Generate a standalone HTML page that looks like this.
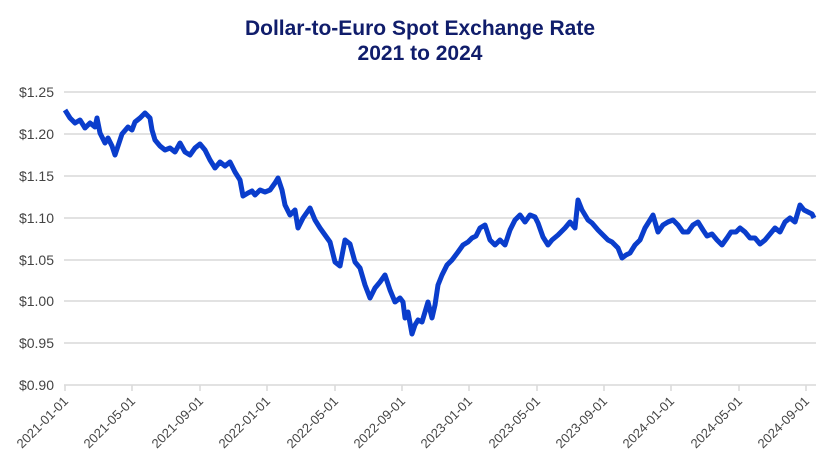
<!DOCTYPE html>
<html><head><meta charset="utf-8"><style>
body{margin:0;background:#fff;}
svg{display:block;font-family:"Liberation Sans",sans-serif;}
</style></head><body>
<svg width="840" height="472" viewBox="0 0 840 472">
<text x="420" y="35" text-anchor="middle" font-size="21" font-weight="bold" fill="#101d6b">Dollar-to-Euro Spot Exchange Rate</text>
<text x="420" y="60" text-anchor="middle" font-size="21" font-weight="bold" fill="#101d6b">2021 to 2024</text>
<g stroke="#d9d9d9" stroke-width="1.5">
<line x1="64" x2="816" y1="92" y2="92"/><line x1="64" x2="816" y1="134" y2="134"/>
<line x1="64" x2="816" y1="176" y2="176"/><line x1="64" x2="816" y1="218" y2="218"/>
<line x1="64" x2="816" y1="260" y2="260"/><line x1="64" x2="816" y1="301" y2="301"/>
<line x1="64" x2="816" y1="343" y2="343"/><line x1="64" x2="816" y1="385" y2="385"/>
<path d="M65 385v6M132 385v6M200 385v6M267 385v6M335 385v6M402 385v6M469 385v6M537 385v6M604 385v6M671 385v6M739 385v6M806 385v6"/>
</g>
<g font-size="14" fill="#444" text-anchor="end">
<text x="54" y="97">$1.25</text><text x="54" y="139">$1.20</text><text x="54" y="181">$1.15</text>
<text x="54" y="223">$1.10</text><text x="54" y="265">$1.05</text><text x="54" y="306">$1.00</text>
<text x="54" y="348">$0.95</text><text x="54" y="390">$0.90</text>
</g>
<g font-size="13" fill="#444" text-anchor="end">
<text transform="translate(69,402) rotate(-45)">2021-01-01</text>
<text transform="translate(136,402) rotate(-45)">2021-05-01</text>
<text transform="translate(204,402) rotate(-45)">2021-09-01</text>
<text transform="translate(271,402) rotate(-45)">2022-01-01</text>
<text transform="translate(339,402) rotate(-45)">2022-05-01</text>
<text transform="translate(406,402) rotate(-45)">2022-09-01</text>
<text transform="translate(473,402) rotate(-45)">2023-01-01</text>
<text transform="translate(541,402) rotate(-45)">2023-05-01</text>
<text transform="translate(608,402) rotate(-45)">2023-09-01</text>
<text transform="translate(675,402) rotate(-45)">2024-01-01</text>
<text transform="translate(743,402) rotate(-45)">2024-05-01</text>
<text transform="translate(810,402) rotate(-45)">2024-09-01</text>
</g>
<path fill="none" stroke="#0a3dcc" stroke-width="5" stroke-linejoin="round" d="M65 110 L70 118 L75 123 L80 120 L85 128 L90 123 L95 127 L97 118 L100 133 L105 143 L108 138 L112 146 L115 155 L118 146 L122 134 L128 127 L132 130 L135 122 L140 118 L145 113 L150 118 L152 130 L155 140 L160 146 L165 150 L170 148 L175 152 L180 143 L185 152 L190 155 L195 148 L200 144 L205 150 L210 160 L215 168 L220 162 L225 166 L230 162 L235 172 L240 180 L243 196 L248 193 L252 191 L255 195 L260 190 L265 192 L270 190 L275 183 L278 178 L282 190 L285 205 L290 215 L295 210 L298 228 L303 218 L310 208 L315 220 L320 228 L325 235 L330 242 L335 262 L340 266 L345 240 L350 244 L355 262 L360 268 L365 285 L370 298 L375 288 L380 282 L385 275 L390 290 L395 302 L400 298 L403 302 L405 318 L408 312 L412 334 L415 325 L418 320 L422 322 L425 312 L428 302 L432 318 L435 305 L438 285 L442 275 L447 265 L452 260 L458 252 L463 245 L468 242 L472 238 L476 236 L480 228 L485 225 L490 240 L495 245 L500 240 L505 245 L510 230 L515 220 L520 215 L525 222 L530 215 L535 217 L538 223 L543 237 L548 245 L552 240 L558 235 L565 228 L570 222 L575 228 L578 200 L582 210 L588 220 L592 223 L598 230 L603 235 L608 240 L612 242 L618 248 L622 258 L626 255 L630 253 L635 245 L640 240 L645 228 L650 220 L653 215 L658 232 L663 225 L668 222 L673 220 L678 225 L683 232 L688 232 L693 225 L698 222 L703 230 L707 236 L712 234 L717 240 L722 245 L727 238 L731 232 L736 232 L740 228 L745 232 L750 238 L755 238 L760 244 L765 240 L770 234 L775 228 L780 232 L785 222 L790 218 L795 222 L800 205 L804 210 L808 212 L812 214 L814 218"/>
</svg>
</body></html>
